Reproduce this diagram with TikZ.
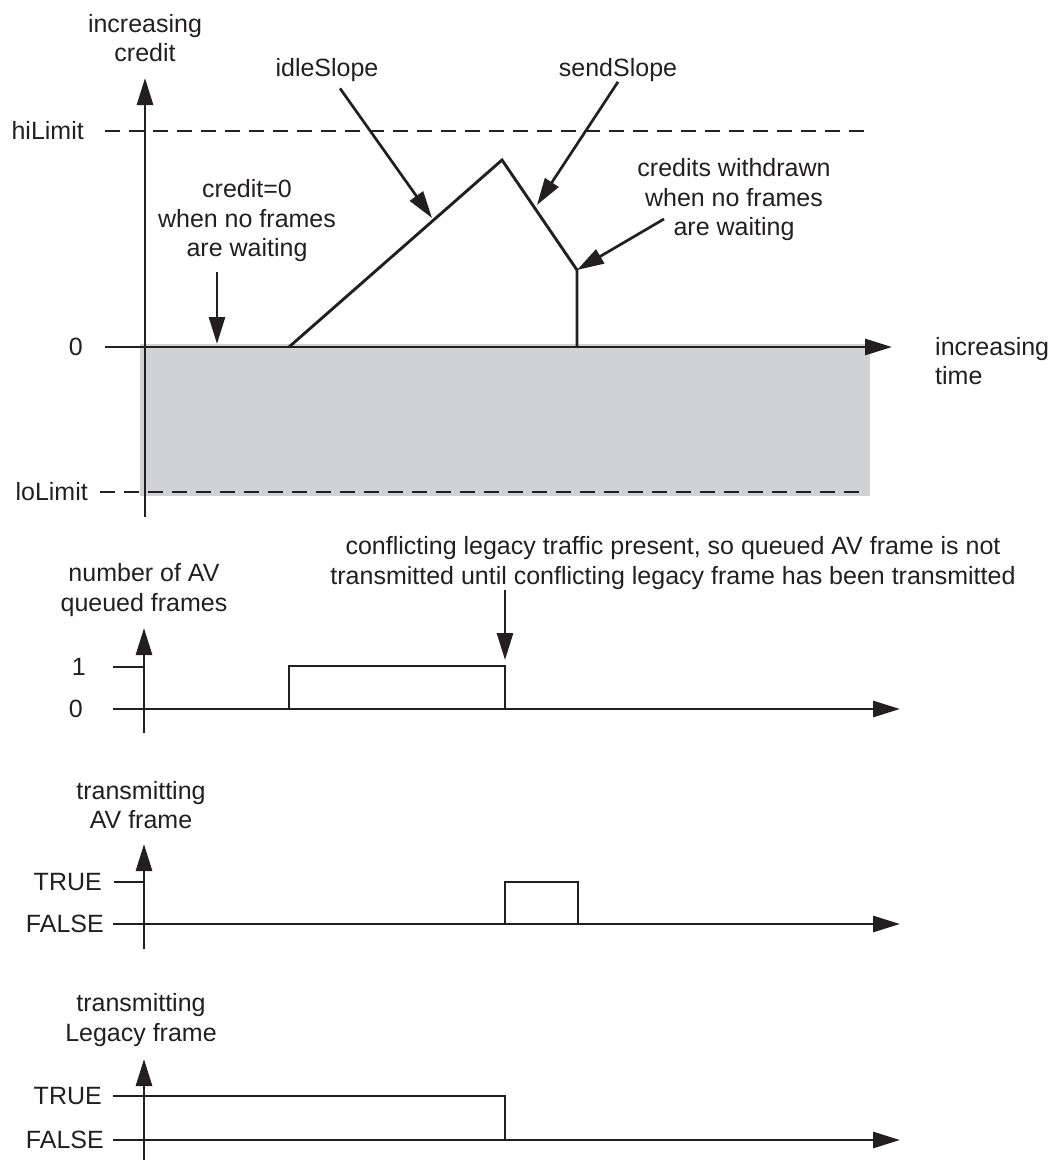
\documentclass[tikz,border=0pt]{standalone}
\usepackage{fontspec}
\setmainfont{Liberation Sans}
\usetikzlibrary{arrows.meta,positioning}
\definecolor{inkblack}{HTML}{231F20}
\definecolor{bandgray}{HTML}{D1D2D4}

\begin{document}
\begin{tikzpicture}[x=1pt,y=-1pt,
  lbl/.style={font=\fontsize{25}{29.5}\selectfont,text=inkblack,align=center,inner sep=0pt},
  axis/.style={draw=inkblack,line width=2.9pt,-{Triangle[length=27pt,width=16pt]}},
  signal/.style={draw=inkblack,line width=2.9pt},
  pointer/.style={draw=inkblack,line width=2.7pt,-{Triangle[length=27pt,width=16pt]}},
  limit/.style={draw=inkblack,line width=2.9pt,dash pattern=on 15pt off 9pt},
  tick/.style={draw=inkblack,line width=1.3pt}]
\useasboundingbox (0,0) rectangle (1064,1160);

% credit
\fill[bandgray] (140,344) rectangle (870,496);
\coordinate (hiL) at (105,131);
\coordinate (hiR) at (866,131);
\coordinate (loL) at (100,492);
\coordinate (loR) at (866,492);
\coordinate (zeroL) at (105,347);
\coordinate (zeroR) at (892,347);
\coordinate (credB) at (145,517);
\coordinate (credT) at (145,78);
\draw[limit] (hiL) -- (hiR);
\draw[limit] (loL) -- (loR);
\draw[axis] (credB) -- (credT);
\draw[axis] (zeroL) -- (zeroR);

\node[lbl] (credlbl) at (145,38) {increasing\\credit};
\node[lbl,left=21pt of hiL] (hilbl) {hiLimit};
\node[lbl,left=22pt of zeroL] (zerolbl) {0};
\node[lbl,left=12pt of loL] (lolbl) {loLimit};
\node[lbl,align=left,anchor=west] (timelbl) at (935,361) {increasing\\time};

\coordinate (rise) at (289,347);
\coordinate (peak) at (502,160);
\coordinate (fall) at (577,270);
\coordinate (drop) at (577,347);
\draw[signal] (rise) -- (peak) -- (fall) -- (drop);

\node[lbl] (idle) at (327,70) {idleSlope};
\node[lbl] (send) at (618,70) {sendSlope};
\node[lbl] (waitzero) at (247,221) {credit=0\\when no frames\\are waiting};
\node[lbl] (withdraw) at (734,200) {credits withdrawn\\when no frames\\are waiting};
\coordinate (idletip) at (432,218);
\coordinate (sendtip) at (537,205);
\coordinate (zerotail) at (217,272);
\coordinate (zerotip) at (217,344);
\coordinate (wdtail) at (664,219);
\draw[pointer,shorten <=8pt] (idle) -- (idletip);
\draw[pointer] (send.south) -- (sendtip);
\draw[pointer] (zerotail) -- (zerotip);
\draw[pointer] (wdtail) -- (fall);

% queued frames
\coordinate (qB) at (144,733);
\coordinate (qT) at (144,628);
\coordinate (q0L) at (113,709);
\coordinate (q0R) at (900,709);
\coordinate (q1L) at (113,667);
\coordinate (q1A) at (144,667);
\draw[axis] (qB) -- (qT);
\draw[axis] (q0L) -- (q0R);
\draw[tick] (q1L) -- (q1A);
\draw[signal] (289,709) -- (289,666) -- (505,666) -- (505,709);

\node[lbl] (qlbl) at (144,590) {number of AV\\queued frames};
\node[lbl,left=27pt of q1L] (qonelbl) {1};
\node[lbl,left=30pt of q0L] (qzerolbl) {0};
\node[lbl] (conflict) at (673,563) {conflicting legacy traffic present, so queued AV frame is not\\transmitted until conflicting legacy frame has been transmitted};
\coordinate (conftail) at (505,590);
\coordinate (conftip) at (505,660);
\draw[pointer] (conftail) -- (conftip);

% AV frame
\coordinate (avB) at (144,949);
\coordinate (avT) at (144,844);
\coordinate (avFL) at (113,924);
\coordinate (avFR) at (900,924);
\coordinate (avTL) at (114,882);
\coordinate (avTA) at (144,882);
\draw[axis] (avB) -- (avT);
\draw[axis] (avFL) -- (avFR);
\draw[tick] (avTL) -- (avTA);
\draw[signal] (505,924) -- (505,882) -- (578,882) -- (578,924);

\node[lbl] (avlbl) at (141,805) {transmitting\\AV frame};
\node[lbl,left=12pt of avTL] (avtrue) {TRUE};
\node[lbl,left=9pt of avFL] (avfalse) {FALSE};

% legacy frame
\coordinate (lgB) at (144,1162);
\coordinate (lgT) at (144,1059);
\coordinate (lgFL) at (113,1140);
\coordinate (lgFR) at (900,1140);
\coordinate (lgTL) at (113,1096);
\coordinate (lgTA) at (144,1096);
\draw[axis] (lgB) -- (lgT);
\draw[axis] (lgFL) -- (lgFR);
\draw[tick] (lgTL) -- (lgTA);
\draw[signal] (lgTA) -- (505,1096) -- (505,1140);

\node[lbl] (lglbl) at (141,1020) {transmitting\\Legacy frame};
\node[lbl,left=11pt of lgTL] (lgtrue) {TRUE};
\node[lbl,left=9pt of lgFL] (lgfalse) {FALSE};
\end{tikzpicture}
\end{document}
